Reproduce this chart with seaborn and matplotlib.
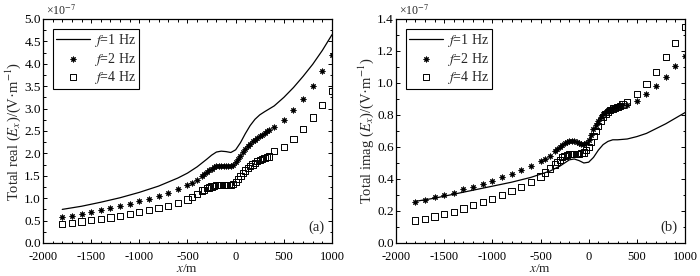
import seaborn as sns
import matplotlib.pyplot as plt
from matplotlib.ticker import MultipleLocator

# x positions (m)
x_sparse = [-1800, -1700, -1600, -1500, -1400, -1300, -1200, -1100, -1000,
            -900, -800, -700, -600, -500, -450, -400]
x_dense = [-350, -325, -300, -275, -250, -225, -200, -175, -150, -125, -100,
           -75, -50, -25, 0, 25, 50, 75, 100, 125, 150, 175, 200, 225, 250,
           275, 300, 325, 350]
x_tail = [400, 500, 600, 700, 800, 900, 1000]
x_line = [-1800, -1600, -1400, -1200, -1000, -800, -600, -500, -400, -300,
          -250, -200, -150, -100, -50, 0, 50, 100, 150, 200, 250, 300, 400,
          500, 600, 700, 800, 900, 1000]

# (a) total real Ex, x1e-7 V/m
real_1hz = [0.75, 0.82, 0.91, 1.01, 1.13, 1.27, 1.45, 1.56, 1.70, 1.87, 1.96,
            2.03, 2.05, 2.04, 2.02, 2.08, 2.24, 2.44, 2.62, 2.76, 2.86, 2.93,
            3.06, 3.25, 3.47, 3.72, 3.99, 4.30, 4.65]
real_2hz = [0.57, 0.61, 0.65, 0.69, 0.73, 0.78, 0.83, 0.88, 0.93, 0.99, 1.05,
            1.12, 1.20, 1.29, 1.34, 1.41,
            1.49, 1.53, 1.58, 1.62, 1.66, 1.69, 1.71, 1.72, 1.72, 1.72, 1.72,
            1.71, 1.72, 1.75, 1.80, 1.87, 1.95, 2.03, 2.10, 2.17, 2.22, 2.27,
            2.31, 2.35, 2.39, 2.42, 2.46, 2.49, 2.52,
            2.60, 2.75, 2.96, 3.22, 3.51, 3.84, 4.19]
real_4hz = [0.42, 0.45, 0.48, 0.51, 0.54, 0.57, 0.61, 0.65, 0.69, 0.73, 0.78,
            0.83, 0.89, 0.97, 1.03, 1.09,
            1.17, 1.19, 1.22, 1.24, 1.26, 1.28, 1.29, 1.29, 1.29, 1.29, 1.29,
            1.29, 1.30, 1.32, 1.36, 1.42, 1.49, 1.56, 1.62, 1.67, 1.71, 1.75,
            1.79, 1.83, 1.86, 1.88, 1.90, 1.92, 1.93,
            2.05, 2.15, 2.33, 2.55, 2.80, 3.08, 3.40]

# (b) total imag Ex, x1e-7 V/m
imag_1hz = [0.26, 0.28, 0.305, 0.33, 0.355, 0.38, 0.41, 0.43, 0.45, 0.48, 0.50,
            0.52, 0.525, 0.515, 0.50, 0.505, 0.535, 0.58, 0.615, 0.635, 0.645,
            0.645, 0.65, 0.665, 0.685, 0.715, 0.745, 0.78, 0.815]
imag_2hz = [0.255, 0.27, 0.285, 0.30, 0.315, 0.335, 0.35, 0.37, 0.39, 0.41,
            0.43, 0.455, 0.48, 0.51, 0.525, 0.545,
            0.575, 0.59, 0.60, 0.615, 0.625, 0.63, 0.635, 0.635, 0.635, 0.63,
            0.625, 0.62, 0.62, 0.625, 0.645, 0.675, 0.71, 0.74, 0.765, 0.79,
            0.805, 0.82, 0.83, 0.84, 0.845, 0.85, 0.855, 0.86, 0.86,
            0.865, 0.885, 0.93, 0.98, 1.04, 1.105, 1.17]
imag_4hz = [0.14, 0.15, 0.165, 0.18, 0.195, 0.215, 0.235, 0.255, 0.275, 0.30,
            0.325, 0.35, 0.38, 0.415, 0.44, 0.465,
            0.49, 0.505, 0.52, 0.535, 0.545, 0.55, 0.555, 0.555, 0.555, 0.555,
            0.555, 0.56, 0.565, 0.58, 0.60, 0.63, 0.67, 0.70, 0.73, 0.76,
            0.785, 0.805, 0.82, 0.83, 0.84, 0.845, 0.85, 0.855, 0.865,
            0.88, 0.93, 0.995, 1.07, 1.16, 1.25, 1.35]

sns.set_style('ticks')
plt.rcParams['font.family'] = ['Liberation Serif', 'DejaVu Serif']
plt.rcParams['mathtext.fontset'] = 'stix'
plt.rcParams['axes.unicode_minus'] = False

x_pts = x_sparse + x_dense + x_tail

fig = plt.figure(figsize=(7, 2.76), dpi=100)
ax1 = fig.add_axes([0.0614, 0.1196, 0.4129, 0.8116])
ax2 = fig.add_axes([0.5657, 0.1196, 0.4129, 0.8116])

panels = [
    (ax1, real_1hz, real_2hz, real_4hz, 5.0, 0.5, 0.25,
     'Total real ($E_x$)/(V·m$^{-1}$)', '(a)'),
    (ax2, imag_1hz, imag_2hz, imag_4hz, 1.4, 0.2, 0.1,
     'Total imag ($E_x$)/(V·m$^{-1}$)', '(b)'),
]

for ax, y1, y2, y4, ymax, ymaj, ymin, ylab, tag in panels:
    sns.lineplot(x=x_line, y=y1, ax=ax, color='k', lw=0.9,
                 label='$f$=1 Hz')
    sns.scatterplot(x=x_pts, y=y2, ax=ax, marker=(8, 1, 0), color='k', s=22,
                    linewidth=0.3, edgecolor='k', label='$f$=2 Hz')
    sns.scatterplot(x=x_pts, y=y4, ax=ax, marker='s', facecolor='none',
                    edgecolor='k', s=20, linewidth=0.7, label='$f$=4 Hz')

    ax.set_xlim(-2000, 1000)
    ax.set_ylim(0, ymax)
    ax.xaxis.set_major_locator(MultipleLocator(500))
    ax.xaxis.set_minor_locator(MultipleLocator(100))
    ax.yaxis.set_major_locator(MultipleLocator(ymaj))
    ax.yaxis.set_minor_locator(MultipleLocator(ymin))
    ax.yaxis.set_major_formatter(plt.FormatStrFormatter('%.1f'))
    ax.tick_params(which='both', direction='in', top=True, right=True,
                   labelsize=9.5, width=0.7, colors='k')
    ax.tick_params(axis='x', which='both', pad=5.5, labelsize=9)
    ax.tick_params(axis='y', which='both', pad=1.5)
    ax.tick_params(which='major', length=3)
    ax.tick_params(which='minor', length=1.8)
    for sp in ax.spines.values():
        sp.set_linewidth(0.9)
        sp.set_color('k')

    ax.set_xlabel('$x$/m', fontsize=9.5, labelpad=0.5)
    ax.set_ylabel(ylab, fontsize=10.5, labelpad=1)
    ax.text(0.01, 1.005, '×10$^{-7}$', transform=ax.transAxes, fontsize=8.5,
            ha='left', va='bottom')
    ax.text(0.975, 0.04, tag, transform=ax.transAxes, fontsize=10.5,
            ha='right', va='bottom')

    leg = ax.legend(loc='upper left', fontsize=10, frameon=True,
                    fancybox=False, edgecolor='k', framealpha=1,
                    handlelength=2.4, handletextpad=0.3, labelspacing=0.1,
                    borderpad=0.25, borderaxespad=0.7)
    leg.get_frame().set_linewidth(0.8)

fig.savefig('out.png', dpi=100)
